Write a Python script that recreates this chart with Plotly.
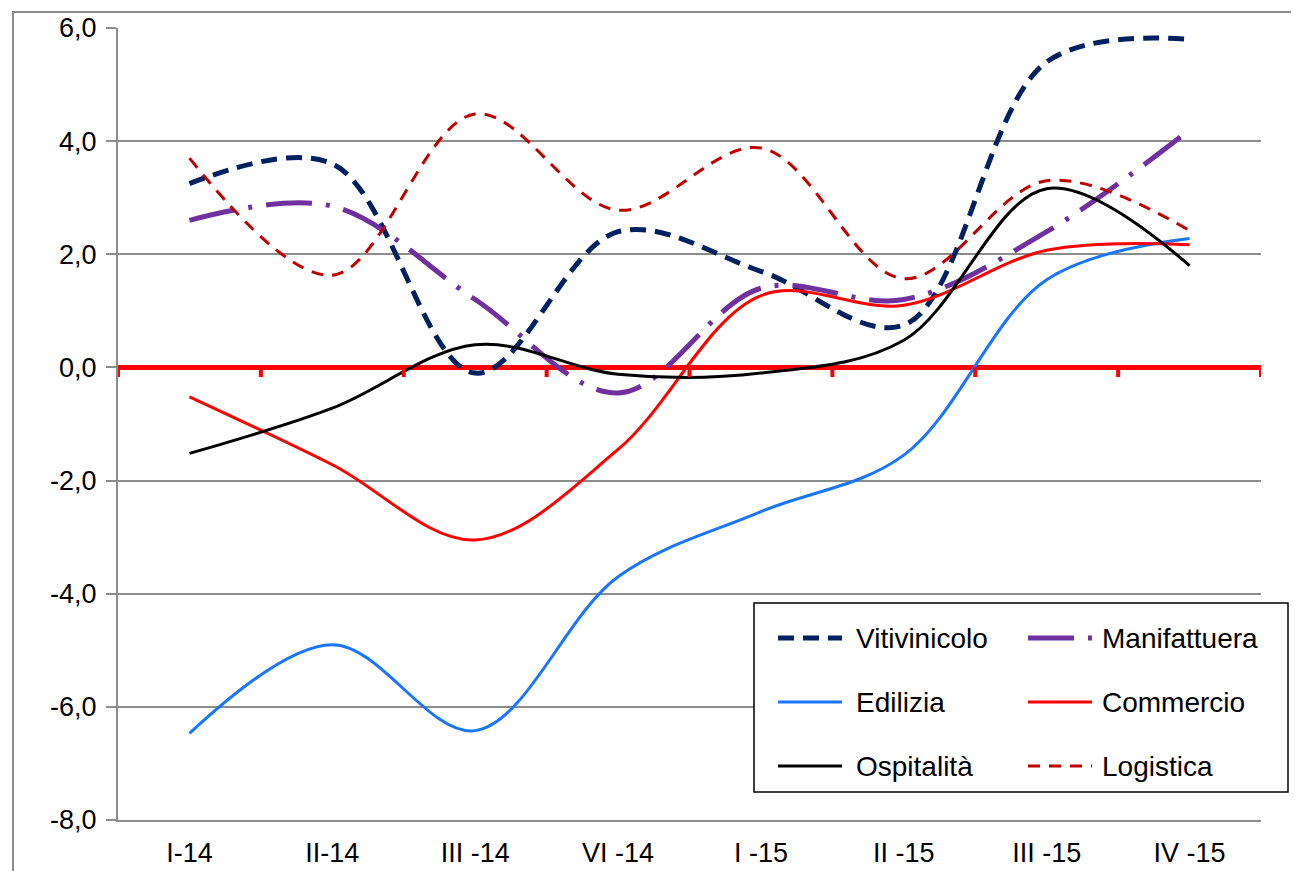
import plotly.graph_objects as go

# quarters on the category axis
quarters = ["I-14", "II-14", "III -14", "VI -14", "I -15", "II -15", "III -15", "IV -15"]

vitivinicolo = [3.25, 3.6, -0.1, 2.4, 1.7, 0.75, 5.4, 5.8]
manifattuera = [2.6, 2.85, 1.2, -0.45, 1.4, 1.2, 2.4, 4.2]
edilizia = [-6.47, -4.9, -6.42, -3.7, -2.55, -1.55, 1.55, 2.28]
commercio = [-0.52, -1.72, -3.05, -1.45, 1.27, 1.1, 2.07, 2.17]
ospitalita = [-1.52, -0.72, 0.4, -0.12, -0.1, 0.48, 3.16, 1.8]
logistica = [3.7, 1.63, 4.48, 2.78, 3.88, 1.57, 3.3, 2.42]

y_ticks = [-8, -6, -4, -2, 0, 2, 4, 6]
y_labels = ["-8,0", "-6,0", "-4,0", "-2,0", "0,0", "2,0", "4,0", "6,0"]

# page sits 8px in from the window corner
OFF = 8
W, H = 1299 - OFF, 871 - OFF
# plot area in window pixels (left, right, top, bottom)
L, R, T, B = 118, 1261, 28, 820


def px(x):
    return (x - L) / (R - L)


def py(y):
    return (B - y) / (B - T)


series = [
    ("Vitivinicolo", vitivinicolo, "#002060", 5, "16px,9px"),
    ("Manifattuera", manifattuera, "#7030A0", 5, "46px,14px,4px,14px"),
    ("Edilizia", edilizia, "#1A75FF", 3, "solid"),
    ("Commercio", commercio, "#FF0000", 3, "solid"),
    ("Ospitalità", ospitalita, "#000000", 3, "solid"),
    ("Logistica", logistica, "#C00000", 3, "12px,9px"),
]

fig = go.Figure()
for name, vals, color, width, dash in series:
    fig.add_trace(go.Scatter(
        x=quarters, y=vals, name=name, mode="lines",
        line=dict(color=color, width=width, dash=dash, shape="spline", smoothing=1.0),
        showlegend=False,
    ))

shapes = []
# outer chart frame
shapes.append(dict(type="rect", xref="paper", yref="paper",
                   x0=px(13), x1=px(1330), y0=py(900), y1=py(12),
                   line=dict(color="#8C8C8C", width=2), layer="below"))
# tick marks hanging off the zero line between categories
for i in range(len(quarters) + 1):
    shapes.append(dict(type="line", xref="x", yref="y",
                       x0=i - 0.5, x1=i - 0.5, y0=0, y1=-0.17,
                       line=dict(color="#FF0000", width=4)))

# hand-made legend box, two columns, three rows
shapes.append(dict(type="rect", xref="paper", yref="paper",
                   x0=px(754), x1=px(1288), y0=py(792), y1=py(603),
                   line=dict(color="#000000", width=1.5), fillcolor="white"))
annotations = []
cols = [(778, 842, 854), (1028, 1092, 1100)]
rows = [638, 702, 766]
for k, (name, vals, color, width, dash) in enumerate(series):
    c0, c1, tx = cols[k % 2]
    ry = rows[k // 2]
    shapes.append(dict(type="line", xref="paper", yref="paper",
                       x0=px(c0), x1=px(c1), y0=py(ry), y1=py(ry),
                       line=dict(color=color, width=width, dash=dash)))
    annotations.append(dict(xref="paper", yref="paper", x=px(tx), y=py(ry),
                            text=name, showarrow=False, xanchor="left", yanchor="middle",
                            font=dict(size=28, color="#000000")))

fig.update_layout(
    width=W, height=H,
    margin=dict(l=L - OFF, r=W - (R - OFF), t=T - OFF, b=H - (B - OFF), autoexpand=False),
    plot_bgcolor="white", paper_bgcolor="white",
    font=dict(family="Liberation Sans, Arial, sans-serif", color="#000000"),
    shapes=shapes, annotations=annotations,
    xaxis=dict(
        type="category", range=[-0.5, 7.5], automargin=False,
        showgrid=False, showline=True, linecolor="#8C8C8C", linewidth=2,
        ticks="", tickfont=dict(size=27), ticklabelstandoff=8,
    ),
    yaxis=dict(
        range=[-8, 6], tickvals=y_ticks, ticktext=y_labels, automargin=False,
        showgrid=True, gridcolor="#8C8C8C", gridwidth=2,
        showline=True, linecolor="#8C8C8C", linewidth=2,
        ticks="outside", ticklen=10, tickcolor="#8C8C8C", tickwidth=2,
        tickfont=dict(size=27), ticklabelstandoff=4,
        zeroline=True, zerolinecolor="#FF0000", zerolinewidth=5,
    ),
)

fig.write_html("out.html")
